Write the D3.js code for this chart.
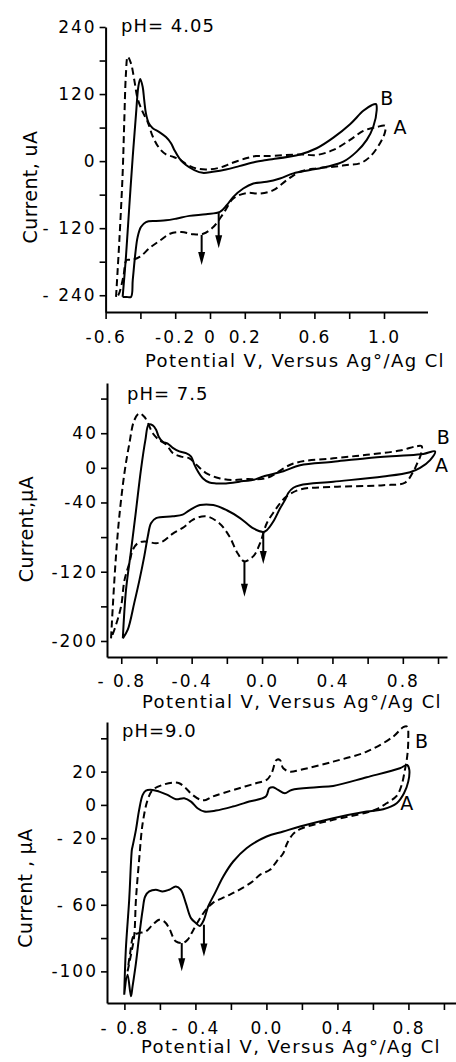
<!DOCTYPE html>
<html>
<head>
<meta charset="utf-8">
<script src="https://cdn.jsdelivr.net/npm/d3@7"></script>
<style>
body { margin: 0; background: #fff; }
svg text { font-family: "DejaVu Sans", sans-serif; fill: #000; }
.tick text { font-size: 17px; letter-spacing: 2px; }
.tick line { stroke: #000; stroke-width: 1.6; }
.domain { stroke: #000; stroke-width: 2; }
</style>
</head>
<body>
<div id="chart"></div>
<script>
// cyclic voltammograms, [potential V, current uA]
const ph405Solid = [[-0.502,-243],[-0.483,-171],[-0.464,-82],[-0.444,8],[-0.425,85],[-0.412,133],[-0.401,147],[-0.387,133],[-0.378,109],[-0.368,85],[-0.352,68],[-0.329,59],[-0.291,52],[-0.253,43],[-0.224,32],[-0.205,20],[-0.176,5],[-0.138,-7],[-0.09,-16],[-0.042,-21],[0.016,-19],[0.092,-15],[0.168,-9],[0.264,-1],[0.326,2],[0.517,12],[0.613,23],[0.709,42],[0.805,66],[0.881,90],[0.929,100],[0.954,102],[0.958,91],[0.938,61],[0.901,38],[0.843,17],[0.766,-1],[0.671,-10],[0.575,-16],[0.479,-22],[0.402,-31],[0.326,-37],[0.249,-40],[0.191,-49],[0.134,-64],[0.096,-79],[0.057,-91],[-0.023,-95],[-0.119,-98],[-0.195,-103],[-0.253,-106],[-0.31,-107],[-0.368,-109],[-0.397,-118],[-0.416,-136],[-0.429,-165],[-0.444,-213],[-0.454,-243],[-0.479,-243],[-0.502,-243]]
const ph405Dashed = [[-0.540,-243],[-0.521,-142],[-0.502,-22],[-0.493,68],[-0.483,157],[-0.473,187],[-0.454,175],[-0.435,145],[-0.416,112],[-0.387,88],[-0.358,70],[-0.329,44],[-0.291,23],[-0.253,12],[-0.214,8],[-0.176,3],[-0.128,-7],[-0.08,-13],[-0.023,-15],[0.053,-12],[0.130,-3],[0.207,5],[0.264,9],[0.326,9],[0.517,12],[0.613,11],[0.709,20],[0.805,38],[0.881,54],[0.958,61],[1.006,63],[1.006,52],[0.977,32],[0.920,8],[0.862,-4],[0.786,-7],[0.709,-10],[0.613,-13],[0.517,-19],[0.441,-34],[0.364,-52],[0.287,-58],[0.211,-57],[0.134,-67],[0.076,-94],[0.019,-118],[-0.039,-130],[-0.096,-131],[-0.163,-127],[-0.230,-130],[-0.287,-142],[-0.345,-155],[-0.402,-171],[-0.45,-177],[-0.479,-177],[-0.498,-207],[-0.527,-240],[-0.540,-243]]

const ph75Solid = [[-0.791,-197],[-0.773,-141],[-0.744,-95],[-0.716,-49],[-0.688,-2],[-0.663,32],[-0.644,50],[-0.621,49],[-0.602,44],[-0.587,36],[-0.564,30],[-0.536,28],[-0.507,23],[-0.47,19],[-0.432,17],[-0.403,13],[-0.385,4],[-0.365,-4],[-0.337,-12],[-0.299,-17],[-0.261,-18],[-0.205,-18],[-0.129,-16],[-0.034,-13],[0.007,-10],[0.121,-4],[0.216,3],[0.405,7],[0.595,11],[0.784,14],[0.916,16],[0.983,19],[0.955,9],[0.898,0],[0.841,-5],[0.689,-10],[0.405,-16],[0.216,-20],[0.178,-23],[0.149,-29],[0.131,-37],[0.102,-47],[0.064,-62],[0.027,-72],[0.007,-74],[-0.049,-70],[-0.125,-58],[-0.2,-49],[-0.277,-43],[-0.352,-43],[-0.413,-49],[-0.451,-54],[-0.507,-56],[-0.602,-58],[-0.631,-64],[-0.649,-79],[-0.669,-102],[-0.697,-130],[-0.726,-156],[-0.763,-187],[-0.791,-197]]
const ph75Dashed = [[-0.858,-197],[-0.848,-160],[-0.830,-102],[-0.811,-56],[-0.782,-6],[-0.754,28],[-0.726,55],[-0.697,63],[-0.669,59],[-0.649,52],[-0.621,40],[-0.584,32],[-0.545,27],[-0.507,17],[-0.46,13],[-0.413,11],[-0.375,4],[-0.318,-6],[-0.243,-12],[-0.166,-14],[-0.091,-13],[0.023,-12],[0.178,5],[0.405,11],[0.595,15],[0.784,20],[0.879,25],[0.907,25],[0.902,15],[0.879,4],[0.86,-4],[0.813,-17],[0.689,-20],[0.405,-22],[0.216,-25],[0.14,-33],[0.102,-41],[0.074,-49],[0.027,-64],[-0.011,-87],[-0.049,-102],[-0.1,-108],[-0.138,-99],[-0.186,-79],[-0.243,-64],[-0.318,-56],[-0.394,-60],[-0.441,-68],[-0.507,-76],[-0.564,-85],[-0.602,-87],[-0.669,-85],[-0.706,-87],[-0.735,-95],[-0.754,-110],[-0.782,-130],[-0.801,-160],[-0.839,-187],[-0.858,-197]]

const ph90Solid = [[-0.801,-114],[-0.792,-87],[-0.773,-57],[-0.758,-27],[-0.754,-25],[-0.735,-15],[-0.717,-3],[-0.697,6],[-0.679,8.6],[-0.641,9],[-0.604,8],[-0.557,6],[-0.51,3.4],[-0.463,4],[-0.425,2],[-0.388,-2],[-0.35,-4],[-0.285,-3.4],[-0.19,-1],[-0.097,2],[-0.003,5],[0.016,10],[0.038,10.6],[0.066,9],[0.104,7],[0.142,9],[0.283,10.6],[0.376,11.4],[0.565,16.6],[0.752,22],[0.793,24],[0.805,21],[0.799,14],[0.775,7],[0.734,1],[0.658,-2.6],[0.565,-4],[0.376,-8],[0.189,-13],[0.095,-16],[0.001,-19],[-0.112,-26],[-0.187,-34],[-0.243,-43],[-0.29,-53],[-0.328,-61],[-0.352,-69],[-0.375,-72.7],[-0.397,-71],[-0.425,-68],[-0.454,-59],[-0.482,-51],[-0.51,-49],[-0.548,-51],[-0.585,-52],[-0.623,-51],[-0.66,-52],[-0.683,-55],[-0.697,-63],[-0.717,-79],[-0.735,-95],[-0.754,-109],[-0.763,-115],[-0.782,-102],[-0.801,-114]]
const ph90Dashed = [[-0.782,-100],[-0.763,-90],[-0.745,-79],[-0.735,-57],[-0.717,-33],[-0.697,-11],[-0.669,3],[-0.641,9],[-0.585,12],[-0.528,13.4],[-0.491,13],[-0.454,10],[-0.416,6],[-0.369,3],[-0.341,3],[-0.303,5],[-0.247,7],[-0.153,10],[-0.059,13],[0.001,15],[0.029,19],[0.057,27],[0.076,27],[0.095,22],[0.132,20],[0.189,21],[0.376,26],[0.565,32],[0.714,41],[0.771,46.7],[0.793,47],[0.799,39],[0.793,29],[0.78,21],[0.762,12],[0.734,5.4],[0.677,1],[0.621,-2.6],[0.565,-4.6],[0.376,-9],[0.283,-11.4],[0.189,-14.6],[0.151,-17.4],[0.117,-23],[0.095,-29],[0.057,-34],[0.02,-39],[-0.037,-42],[-0.078,-46],[-0.153,-51],[-0.228,-55],[-0.303,-59],[-0.341,-63],[-0.379,-69],[-0.416,-76],[-0.444,-81],[-0.472,-83],[-0.51,-82],[-0.528,-79],[-0.548,-74],[-0.576,-70],[-0.604,-69],[-0.641,-72],[-0.679,-76],[-0.717,-77],[-0.745,-78],[-0.769,-90],[-0.782,-100]]

// peak arrows: [potential, start current, tip current]
const ph405Arrows = [[-0.048,-132,-186],[0.050,-93,-156]]
const ph75Arrows = [[0.007,-74,-111],[-0.1,-108,-149]]
const ph90Arrows = [[-0.352,-72,-91],[-0.477,-83,-100]]

// curve letters: [text, potential, current]
const ph405Letters = [["B",1.016,113],["A",1.092,61]]
const ph75Letters = [["B",1.03,36],["A",1.02,3.5]]
const ph90Letters = [["B",0.874,38],["A",0.79,1]]

const ph405XTicks = [-0.6,-0.4,-0.2,0,0.2,0.4,0.6,0.8,1.0]
const ph405XLabelAt = [-0.6,-0.2,0,0.2,0.6,1.0]
const ph405XLabels = ["-0.6","-0.2","0","0.2","0.6","1.0"]
const ph405YTicks = [240,180,120,60,0,-60,-120,-180,-240]
const ph405YLabelAt = [240,120,0,-120,-240]
const ph405YLabels = ["240","120","0","- 120","- 240"]

const ph75XTicks = [-0.8,-0.6,-0.4,-0.2,0,0.2,0.4,0.6,0.8,1.0]
const ph75XLabelAt = [-0.8,-0.4,0,0.4,0.8]
const ph75XLabels = ["- 0.8","-0.4","0.0","0.4","0.8"]
const ph75YTicks = [80,40,0,-40,-80,-120,-160,-200]
const ph75YLabelAt = [40,0,-40,-120,-200]
const ph75YLabels = ["40","0","-40","-120","-200"]

const ph90XTicks = [-0.8,-0.6,-0.4,-0.2,0,0.2,0.4,0.6,0.8,1.0]
const ph90XLabelAt = [-0.8,-0.4,0,0.4,0.8]
const ph90XLabels = ["- 0.8","- 0.4","0.0","0.4","0.8"]
const ph90YTicks = [40,20,0,-20,-40,-60,-80,-100]
const ph90YLabelAt = [20,0,-20,-60,-100]
const ph90YLabels = ["20","0","- 20","- 60","-100"]

const xTitle = "Potential V, Versus Ag°/Ag Cl"

var panels = [
    {title: "pH= 4.05", yTitle: "Current, uA", solid: ph405Solid, dashed: ph405Dashed, arrows: ph405Arrows, letters: ph405Letters,
     xTicks: ph405XTicks, xLabelAt: ph405XLabelAt, xLabels: ph405XLabels, yTicks: ph405YTicks, yLabelAt: ph405YLabelAt, yLabels: ph405YLabels,
     xDomain: [-0.6, 1.25], xRange: [105.6, 427.5], yDomain: [-270, 240], yRange: [312, 27],
     titlePos: [121, 32], xTitlePos: [295, 367], yTitlePos: [37, 187], pad: 12},
    {title: "pH= 7.5", yTitle: "Current,µA", solid: ph75Solid, dashed: ph75Dashed, arrows: ph75Arrows, letters: ph75Letters,
     xTicks: ph75XTicks, xLabelAt: ph75XLabelAt, xLabels: ph75XLabels, yTicks: ph75YTicks, yLabelAt: ph75YLabelAt, yLabels: ph75YLabels,
     xDomain: [-0.881, 1.051], xRange: [107, 447], yDomain: [-218.5, 98], yRange: [657, 383],
     titlePos: [127, 400], xTitlePos: [292, 708], yTitlePos: [33, 529], pad: 11},
    {title: "pH=9.0", yTitle: "Current , µA", solid: ph90Solid, dashed: ph90Dashed, arrows: ph90Arrows, letters: ph90Letters,
     xTicks: ph90XTicks, xLabelAt: ph90XLabelAt, xLabels: ph90XLabels, yTicks: ph90YTicks, yLabelAt: ph90YLabelAt, yLabels: ph90YLabels,
     xDomain: [-0.898, 1.068], xRange: [107, 456], yDomain: [-119, 49.8], yRange: [1003, 722],
     titlePos: [122, 737], xTitlePos: [291, 1053], yTitlePos: [32, 888], pad: 12}
]

var svg = d3.select("#chart").append("svg")
    .attr("width", 456)
    .attr("height", 1062)

function labelFor(d, at, labels) {
    var i = at.findIndex(v => Math.abs(v - d) < 1e-6)
    return i < 0 ? "" : labels[i]
}

function drawPanel(p) {
    var x = d3.scaleLinear().domain(p.xDomain).range(p.xRange)
    var y = d3.scaleLinear().domain(p.yDomain).range(p.yRange)
    var g = svg.append("g")

    g.append("g")
        .attr("transform", `translate(0,${p.yRange[0]})`)
        .call(d3.axisBottom(x).tickValues(p.xTicks).tickSize(7).tickSizeOuter(0)
            .tickPadding(p.pad).tickFormat(d => labelFor(d, p.xLabelAt, p.xLabels)))
    g.append("g")
        .attr("transform", `translate(${p.xRange[0]},0)`)
        .call(d3.axisLeft(y).tickValues(p.yTicks).tickSize(6).tickSizeOuter(0)
            .tickPadding(3).tickFormat(d => labelFor(d, p.yLabelAt, p.yLabels)))

    var line = d3.line()
        .x(d => x(d[0]))
        .y(d => y(d[1]))
        .curve(d3.curveCatmullRom.alpha(0.5))

    g.append("path").datum(p.solid)
        .attr("d", line)
        .attr("fill", "none").attr("stroke", "#000").attr("stroke-width", 2)
    g.append("path").datum(p.dashed)
        .attr("d", line)
        .attr("fill", "none").attr("stroke", "#000").attr("stroke-width", 2)
        .attr("stroke-dasharray", "7,4")

    // arrows marking the cathodic peaks
    g.selectAll(".arrow-line").data(p.arrows).enter().append("line")
        .attr("x1", d => x(d[0])).attr("x2", d => x(d[0]))
        .attr("y1", d => y(d[1])).attr("y2", d => y(d[2]) - 8)
        .attr("stroke", "#000").attr("stroke-width", 2)
    g.selectAll(".arrow-head").data(p.arrows).enter().append("path")
        .attr("d", d => {
            var ax = x(d[0]), ay = y(d[2])
            return `M${ax - 3.5},${ay - 13}L${ax + 3.5},${ay - 13}L${ax},${ay}Z`
        })
        .attr("fill", "#000")

    g.selectAll(".letter").data(p.letters).enter().append("text")
        .attr("x", d => x(d[1])).attr("y", d => y(d[2]))
        .attr("dy", "0.36em")
        .attr("text-anchor", "middle")
        .style("font-size", "19px")
        .text(d => d[0])

    g.append("text")
        .attr("x", p.titlePos[0]).attr("y", p.titlePos[1])
        .style("font-size", "18px").style("letter-spacing", "1px")
        .text(p.title)
    g.append("text")
        .attr("x", p.xTitlePos[0]).attr("y", p.xTitlePos[1])
        .attr("text-anchor", "middle")
        .style("font-size", "18px").style("letter-spacing", "1.4px")
        .text(xTitle)
    g.append("text")
        .attr("transform", `translate(${p.yTitlePos[0]},${p.yTitlePos[1]}) rotate(-90)`)
        .attr("text-anchor", "middle")
        .style("font-size", "19px").style("letter-spacing", "0.4px")
        .text(p.yTitle)
}

panels.forEach(drawPanel)
</script>
</body>
</html>
